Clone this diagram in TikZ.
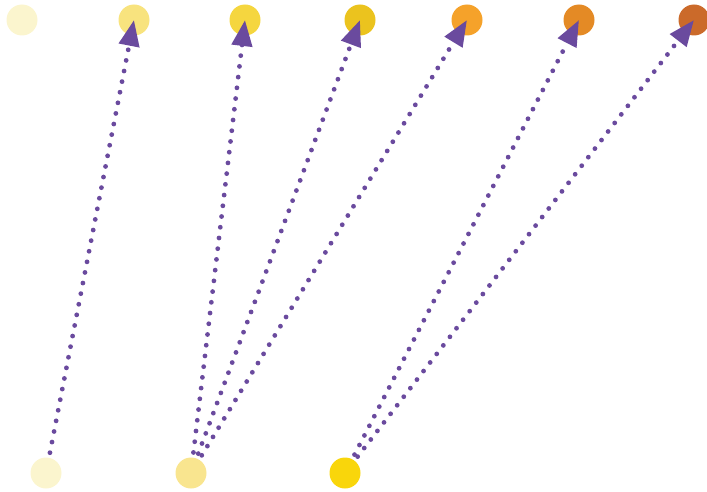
\documentclass[tikz,border=0pt]{standalone}
\usepackage{tikz}
\usetikzlibrary{arrows.meta, positioning}

\definecolor{tone1}{HTML}{FBF5CE}
\definecolor{tone2}{HTML}{F8E37E}
\definecolor{tone3}{HTML}{F5D63F}
\definecolor{tone4}{HTML}{EBC31E}
\definecolor{tone5}{HTML}{F5A22A}
\definecolor{tone6}{HTML}{E48A25}
\definecolor{tone7}{HTML}{CB6A2A}
\definecolor{lowtwo}{HTML}{F9E58F}
\definecolor{lowthree}{HTML}{F9D60B}
\definecolor{linkpurple}{HTML}{6A4A9E}

\begin{document}
\begin{tikzpicture}[x=1pt, y=-1pt,
    dot/.style={circle, minimum size=31pt, inner sep=0pt},
    link/.style={linkpurple, line width=4.8pt, line cap=round,
        dash pattern=on 0pt off 10.8pt, shorten <=5pt,
        -{Triangle[length=26pt, width=20pt]}}]

\useasboundingbox (0,0) rectangle (707,492);

% Top row of circles
\foreach \n/\x in {1/22, 2/134, 3/245, 4/360, 5/467, 6/579, 7/694}
{
    \node[dot, fill=tone\n] (t\n) at (\x,20) {};
}

% Bottom row of circles
\node[dot, fill=tone1] (b1) at (46,473) {};
\node[dot, fill=lowtwo] (b2) at (191,473) {};
\node[dot, fill=lowthree] (b3) at (345,473) {};

% Dotted arrows
\draw[link] (b1) -- (t2.center);
\foreach \t in {3,4,5}
{
    \draw[link] (b2) -- (t\t.center);
}
\foreach \t in {6,7}
{
    \draw[link] (b3) -- (t\t.center);
}

\end{tikzpicture}
\end{document}
